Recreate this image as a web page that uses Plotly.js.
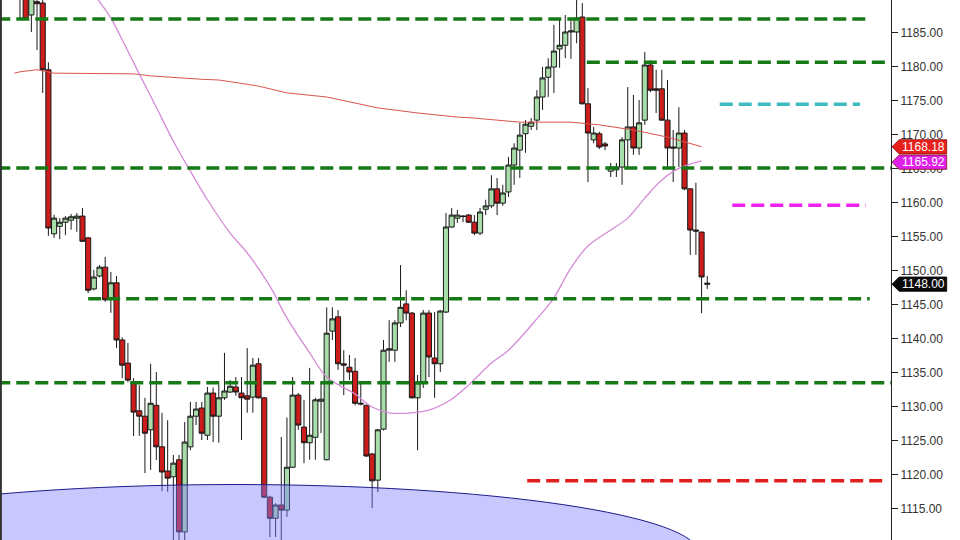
<!DOCTYPE html>
<html><head><meta charset="utf-8">
<script src="https://cdn.plot.ly/plotly-3.0.1.min.js"></script>
<style>html,body{margin:0;padding:0;background:#fff}#chart{width:960px;height:540px}</style>
</head><body><div id="chart"></div>
<script>
// ---- candle data (bar index, OHLC) ----
var opens = [1190.6,1190.5,1187.55,1189.5,1189.3,1179.5,1155.4,1156.5,1157.1,1157.4,1157.7,1158.0,1154.8,1147.3,1149.2,1150.5,1145.8,1148.2,1139.8,1136.4,
1133.6,1129.4,1128.6,1126.6,1130.2,1124.1,1120.55,1119.7,1122.2,1111.6,1124.1,1128.6,1129.8,1125.8,1132.0,1128.6,1131.3,1132.15,1132.9,1132.0,
1131.6,1131.4,1136.3,1131.3,1116.7,1113.6,1115.55,1114.8,1121.1,1131.7,1127.0,1124.7,1125.5,1130.8,1122.2,1141.1,1143.2,1136.3,1135.8,1135.2,
1130.5,1130.2,1123.05,1119.2,1126.7,1138.3,1138.3,1142.3,1145.1,1143.75,1131.3,1133.5,1143.75,1137.15,1136.3,1143.9,1156.4,1157.7,1158.0,1158.15,
1157.1,1155.5,1159.0,1159.5,1162.0,1159.9,1161.55,1165.5,1167.7,1170.1,1171.2,1172.1,1175.5,1178.4,1179.9,1182.55,1183.1,1185.05,1185.05,1187.25,
1174.5,1169.2,1170.1,1168.6,1164.6,1164.8,1165.2,1169.2,1171.1,1168.0,1172.1,1180.2,1176.7,1176.7,1172.1,1168.15,1168.0,1170.2,1162.0,1155.95,
1155.65,1148.15];
var highs = [1191.2,1191.0,1190.8,1190.5,1189.75,1180.6,1158.2,1157.7,1158.0,1158.3,1158.45,1159.2,1154.9,1150.1,1150.8,1152.0,1149.8,1149.2,1140.2,1139.35,
1134.2,1133.2,1131.3,1136.3,1135.1,1129.1,1128.0,1122.9,1122.9,1127.75,1130.7,1130.7,1130.7,1132.9,1132.8,1133.3,1137.9,1133.9,1134.35,1134.35,
1138.6,1137.15,1137.15,1131.4,1116.9,1115.8,1125.55,1128.4,1134.35,1132.0,1131.0,1135.7,1131.3,1133.5,1144.6,1144.6,1144.2,1138.3,1137.6,1137.15,
1133.5,1130.3,1123.2,1126.7,1139.8,1142.7,1142.7,1150.8,1147.1,1143.9,1134.65,1144.2,1144.2,1143.9,1144.2,1158.45,1159.2,1158.9,1158.15,1158.3,
1158.15,1159.2,1160.4,1164.0,1163.6,1162.6,1166.7,1168.7,1171.7,1172.1,1172.4,1176.5,1179.9,1181.2,1186.1,1186.8,1187.55,1186.8,1189.75,1189.3,
1176.8,1171.1,1170.4,1168.9,1165.8,1165.8,1169.6,1176.95,1175.8,1175.05,1182.1,1180.9,1179.5,1179.5,1178.0,1170.65,1174.0,1170.65,1162.1,1162.9,
1155.7,1149.2];
var lows = [1187.1,1186.8,1185.05,1182.4,1176.1,1155.1,1154.8,1154.6,1155.2,1156.0,1155.7,1154.2,1146.7,1147.1,1149.0,1145.4,1143.8,1138.6,1134.2,1133.6,
1125.7,1125.7,1120.25,1120.7,1122.15,1117.6,1117.5,1109.7,1109.5,1109.8,1123.6,1127.3,1125.1,1125.1,1124.8,1124.7,1131.0,1132.0,1131.6,1125.1,
1129.1,1129.1,1131.2,1116.6,1110.85,1110.85,1109.7,1113.8,1121.0,1126.6,1121.7,1122.2,1122.2,1126.1,1122.1,1139.8,1135.4,1131.7,1133.9,1130.2,
1130.2,1122.6,1115.1,1117.45,1126.5,1136.6,1136.6,1141.7,1142.7,1131.2,1123.6,1132.75,1134.35,1131.3,1135.1,1143.75,1156.25,1157.0,1157.1,1157.0,
1155.2,1155.2,1158.15,1159.2,1158.15,1159.5,1160.8,1162.6,1163.6,1167.3,1170.65,1170.65,1173.6,1175.5,1176.1,1179.8,1181.2,1181.1,1183.4,1174.4,
1163.0,1168.7,1167.85,1167.7,1163.75,1163.75,1162.6,1165.2,1167.0,1167.0,1171.4,1176.2,1173.15,1172.0,1165.2,1163.0,1165.2,1161.8,1152.3,1152.3,
1143.75,1147.3];
var closes = [1190.0,1187.0,1190.2,1189.2,1179.5,1156.25,1157.7,1157.1,1157.7,1157.9,1158.0,1154.3,1147.1,1149.05,1150.5,1145.7,1148.2,1139.8,1136.1,1133.9,
1129.2,1128.6,1126.1,1130.5,1124.1,1120.4,1119.5,1121.7,1111.6,1124.8,1128.6,1129.65,1126.1,1132.0,1128.6,1131.3,1132.3,1133.0,1132.15,1131.3,
1131.1,1136.1,1131.3,1116.7,1113.6,1115.55,1114.8,1121.1,1131.7,1127.3,1124.7,1125.8,1131.0,1131.1,1140.8,1142.9,1136.3,1136.1,1135.1,1130.5,
1130.4,1122.75,1119.1,1126.6,1138.3,1138.5,1142.3,1144.6,1143.75,1131.3,1133.5,1143.75,1137.3,1136.3,1144.05,1156.4,1158.15,1158.15,1157.95,1157.1,
1155.5,1158.6,1159.5,1162.0,1159.9,1161.4,1165.5,1168.0,1169.9,1171.5,1171.8,1175.5,1178.3,1179.9,1182.25,1183.1,1185.05,1185.2,1187.1,1174.5,
1170.2,1170.2,1168.15,1168.3,1165.2,1165.2,1169.2,1171.1,1168.0,1171.7,1180.2,1176.5,1176.5,1172.1,1168.0,1168.0,1170.2,1162.0,1155.95,1155.8,
1149.05,1148.0];
var bars = opens.map(function(_, i){ return i; });

// ---- moving averages (read points) ----
var maSlowX = [-1,0,3,6,20,23,32,35,39,42,47,54,63,70,77,80,88,97,102,108,114,120];
var maSlowY = [1179.0,1179.2,1179.5,1179.0,1178.9,1178.6,1178.1,1178.0,1177.5,1177.1,1176.1,1175.5,1173.9,1173.15,1172.55,1172.4,1171.8,1171.8,1171.4,1170.65,1169.6,1168.2];
var maFastX = [13,16,18,21,24,27,30,33,37,40,44,47,51,54,59,62,65,69,72,76,79,83,86,91,94,97,100,104,107,110,113,116,120];
var maFastY = [1190.6,1187.1,1183.9,1178.9,1174.0,1169.0,1164.6,1160.4,1155.5,1152.6,1147.7,1143.0,1137.9,1134.35,1131.85,1129.95,1129.1,1129.1,1129.5,1131.1,1133.2,1136.4,1138.3,1142.9,1146.0,1150.4,1153.6,1155.95,1157.7,1160.65,1163.3,1165.0,1166.1];

// ---- horizontal levels ----
var levelPrice = [1186.95, 1180.6, 1174.45, 1165.05, 1159.6, 1145.85, 1133.5, 1119.1];
var levelFrom  = [-4, 99.8, 123.2, -4, 125.4, 12, -4, 89.3];
var levelTo    = [149.6, 152.6, 147.9, 154, 148.9, 149.6, 154, 152.3];
var levelColor = ['#157a15','#157a15','#3cbcc0','#157a15','#f020f0','#157a15','#157a15','#e02020'];

// ---- price tags ----
var tagPrice = [1168.18, 1165.92, 1148.00];
var tagColor = ['#e8201c', '#e020e8', '#0a0a0a'];

// ---- zone ellipse ----
var zoneX = [-43.8, 119.5];
var zoneY = [1098.4, 1118.56];

var traces = [
  {type:'scatter', mode:'lines', x:maSlowX, y:maSlowY, line:{color:'#d9544f', width:1}, hoverinfo:'skip', showlegend:false},
  {type:'scatter', mode:'lines', x:maFastX, y:maFastY, line:{color:'#d58ad8', width:1.3, shape:'spline'}, hoverinfo:'skip', showlegend:false},
  {type:'candlestick', x:bars, open:opens, high:highs, low:lows, close:closes,
   increasing:{line:{color:'#1a1a1a', width:1}, fillcolor:'#a8dca8'},
   decreasing:{line:{color:'#1a1a1a', width:1}, fillcolor:'#cc1c1c'},
   whiskerwidth:0, hoverinfo:'skip', showlegend:false}
];

var shapes = [];
shapes.push({type:'circle', xref:'x', yref:'y', x0:zoneX[0], x1:zoneX[1], y0:zoneY[0], y1:zoneY[1],
  fillcolor:'rgba(128,128,255,0.43)', line:{color:'#1c1c8c', width:1}, layer:'above'});
for (var k = 0; k < levelPrice.length; k++) {
  shapes.push({type:'line', xref:'x', yref:'y', x0:levelFrom[k], x1:levelTo[k], y0:levelPrice[k], y1:levelPrice[k],
    line:{color:levelColor[k], width:3.5, dash:'13px,6px'}, layer:'above'});
}
shapes.push({type:'line', xref:'paper', yref:'paper', x0:0.001, x1:0.001, y0:0, y1:1, line:{color:'#333', width:2}});

var annotations = [];
var h = 1.05;
for (var t = 0; t < tagPrice.length; t++) {
  var p = tagPrice[t];
  shapes.push({type:'path', xref:'paper', yref:'y',
    path:'M 1.0011 '+p+' L 1.0092 '+(p+h)+' L 1.0625 '+(p+h)+' L 1.0625 '+(p-h)+' L 1.0092 '+(p-h)+' Z',
    fillcolor:tagColor[t], line:{color:t===2?'#000':'#8a1010', width:0.8}, layer:'above'});
  annotations.push({xref:'paper', yref:'y', x:1.0365, y:p, text:p.toFixed(2), showarrow:false,
    xanchor:'center', yanchor:'middle', font:{family:'Liberation Sans, Arial, sans-serif', size:12, color:'#fff'}});
}

var layout = {
  width:960, height:540,
  margin:{l:0, r:69, t:0, b:0},
  paper_bgcolor:'#fff', plot_bgcolor:'#fff',
  showlegend:false,
  boxgap:0.1, boxgroupgap:0,
  xaxis:{range:[-3.52, 153.35], showgrid:false, zeroline:false, showticklabels:false, ticks:'', showline:false, rangeslider:{visible:false}, fixedrange:true},
  yaxis:{side:'right', range:[1110.41, 1189.75], dtick:5, tick0:1110, tickformat:'.2f',
    showgrid:false, zeroline:false, ticks:'outside', ticklen:6, tickcolor:'#222', tickwidth:1,
    showline:true, linecolor:'#222', linewidth:1,
    tickfont:{family:'Liberation Sans, Arial, sans-serif', size:12, color:'#333'}},
  shapes:shapes,
  annotations:annotations
};
Plotly.newPlot('chart', traces, layout, {displayModeBar:false, staticPlot:true});
</script>
</body></html>
